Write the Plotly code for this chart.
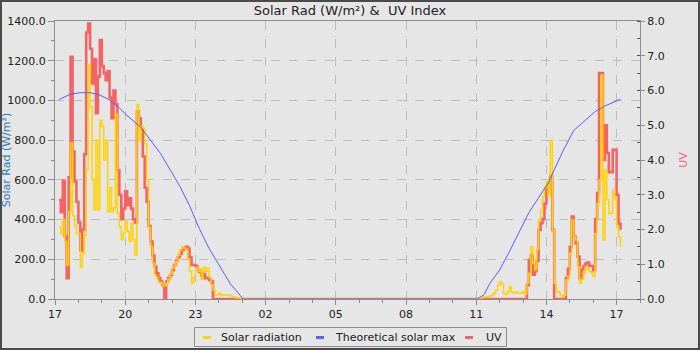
import pandas as pd
import plotly.graph_objects as go

# ---------------- data (5-minute readings) ----------------
solar_evening_start = "2024-06-01 17:10"
solar_evening = [
    360, 330, 400, 290, 170, 440, 785, 420, 370, 330,              # 17:10-17:55
    330, 160, 230, 320, 650, 1180, 968, 600, 450, 800, 450, 900,   # 18:00-18:55
    870, 700, 800, 440, 560, 440, 460, 930, 430, 364, 300, 330,    # 19:00-19:55
    390, 340, 290, 380, 300, 220, 980, 800, 870, 860, 780, 600,    # 20:00-20:55
    360, 263, 180, 121, 106, 87, 80, 70, 65, 81, 100, 126,         # 21:00-21:55
    155, 170, 188, 222, 247, 263, 255, 250, 196, 138, 80, 110,     # 22:00-22:55
    146, 160, 140, 100, 160, 140, 155, 110, 70, 45, 20, 20,        # 23:00-23:55
    29, 20, 20, 20, 20, 20, 15, 13, 10, 5, 5, 3,                   # 00:00-00:55
    0,                                                             # 01:00
]
solar_morning_start = "2024-06-02 10:55"
solar_morning = [
    0,                                                             # 10:55
    0, 2, 5, 8, 10, 12, 12, 15, 20, 29, 45, 70,                    # 11:00-11:55
    87, 75, 25, 25, 37, 62, 35, 30, 35, 30, 30, 30,                # 12:00-12:55
    35, 25, 80, 130, 263, 180, 146, 250, 398, 448, 515, 566,       # 13:00-13:55
    590, 520, 800, 347, 79, 40, 33, 20, 12, 20, 96, 113,           # 14:00-14:55
    230, 398, 314, 297, 163, 80, 100, 130, 163, 150, 140, 130,     # 15:00-15:55
    113, 330, 481, 600, 1128, 297, 650, 500, 431, 431, 549, 500,   # 16:00-16:55
    364, 314, 263,                                                 # 17:00-17:10
]

uv_evening_start = "2024-06-01 17:10"
uv_evening = [
    2.85, 2.5, 3.4, 1.8, 0.6, 3.5, 6.97, 4.24, 3.38, 2.8,                  # 17:10-17:55
    2.2, 1.4, 2.0, 4.17, 7.67, 7.93, 7.2, 6.2, 6.9, 5.35, 6.4, 7.45,       # 18:00-18:55
    6.7, 6.5, 6.3, 6.55, 5.8, 5.2, 6.0, 5.6, 3.7, 3.0, 2.3, 2.6,           # 19:00-19:55
    3.1, 2.7, 2.9, 2.6, 2.3, 2.2, 5.4, 5.2, 4.9, 4.1, 3.2, 2.8,            # 20:00-20:55
    2.1, 1.65, 1.25, 0.93, 0.74, 0.6, 0.5, 0.4, 0.0, 0.5, 0.6, 0.69,       # 21:00-21:55
    0.83, 0.98, 1.1, 1.2, 1.3, 1.41, 1.45, 1.5, 1.45, 1.2, 0.98, 0.98,     # 22:00-22:55
    0.95, 0.85, 0.78, 0.67, 0.72, 0.6, 0.6, 0.55, 0.5, 0.0,                # 23:00-23:45
]
uv_morning_start = "2024-06-02 13:05"
uv_morning = [
    0.0, 0.4, 1.12, 1.26, 0.7, 0.8, 1.1, 1.99, 2.18, 2.3, 2.75,            # 13:05-13:55
    3.14, 3.36, 3.55, 1.99, 0.0, 0.0, 0.0, 0.0, 0.0, 0.0, 0.6, 0.87,       # 14:00-14:55
    1.5, 2.37, 1.8, 1.6, 1.22, 0.6, 0.85, 0.95, 1.02, 1.05, 0.95, 0.95,    # 15:00-15:55
    0.83, 2.3, 3.05, 6.5, 6.5, 4.0, 5.0, 4.2, 3.65, 3.65, 4.29, 4.29,      # 16:00-16:55
    3.0, 2.17, 1.99,                                                       # 17:00-17:10
]

theo_clock = ["17:10", "17:40", "18:05", "18:30", "18:55", "19:20", "19:45",
              "20:10", "20:40", "21:05", "21:30", "21:55", "22:20", "22:45",
              "23:10", "23:35", "00:05", "00:30", "00:55", "01:02",
              "11:03", "11:10", "11:20", "11:35", "12:00", "12:25", "12:50",
              "13:15", "13:40", "14:05", "14:20", "14:45", "15:10", "15:40",
              "16:05", "16:30", "16:55", "17:10"]
theo_values = [1004, 1032, 1039, 1039, 1027, 1003, 962,
               915, 865, 800, 734, 652, 568, 470,
               355, 255, 160, 75, 18, 0,
               0, 8, 22, 79, 146, 238, 340,
               435, 510, 585, 650, 755, 848, 903,
               944, 972, 994, 1006]

x_range = ["2024-06-01 17:00", "2024-06-02 18:00"]
solar_ticks = [0, 200, 400, 600, 800, 1000, 1200, 1400]
uv_ticks = [0, 1, 2, 3, 4, 5, 6, 7, 8]
legend_names = ["Solar radiation", "Theoretical solar max", "UV"]

# ---------------- build x values ----------------
def steps(start, n):
    return list(pd.date_range(start, periods=n, freq="5min"))

solar_x = steps(solar_evening_start, len(solar_evening)) + steps(solar_morning_start, len(solar_morning))
solar_y = solar_evening + solar_morning
uv_x = steps(uv_evening_start, len(uv_evening)) + steps(uv_morning_start, len(uv_morning))
uv_y = uv_evening + uv_morning

theo_x = []
day = pd.Timestamp("2024-06-01")
prev = None
for c in theo_clock:
    t = day + pd.Timedelta(hours=int(c[:2]), minutes=int(c[3:]))
    if prev is not None and t <= prev:
        day = day + pd.Timedelta(days=1)
        t = t + pd.Timedelta(days=1)
    theo_x.append(t)
    prev = t

# ---------------- styling ----------------
BG = "#e6e6e6"
AX = "#8c8c8c"
GRID = "#bcbcbc"
FONT = "DejaVu Sans"
C_SOLAR = "#ffd200"
C_THEO = "#5c5cff"
C_UV = "#f46464"
TXT = "#222222"

fig = go.Figure()
fig.add_trace(go.Scatter(x=uv_x, y=uv_y, name=legend_names[2], mode="lines", line_shape="hv",
                         line=dict(color=C_UV, width=2.6), yaxis="y", showlegend=False))
fig.add_trace(go.Scatter(x=solar_x, y=solar_y, name=legend_names[0], mode="lines", line_shape="hv",
                         line=dict(color=C_SOLAR, width=1.5), yaxis="y2", showlegend=False))
fig.add_trace(go.Scatter(x=theo_x, y=theo_values, name=legend_names[1], mode="lines",
                         line=dict(color=C_THEO, width=1), yaxis="y2", showlegend=False))

L, R, T, B = 55, 60, 21, 51
W, H = 700, 350
pw, ph = W - L - R, H - T - B

def px(x):  # figure pixel -> paper x
    return (x - L) / pw

def py(y):  # figure pixel -> paper y
    return (T + ph - y) / ph

shapes = [
    # outer frame
    dict(type="rect", xref="paper", yref="paper", x0=px(1), x1=px(W - 1), y0=py(H - 1), y1=py(1),
         line=dict(color="#4a4a4a", width=2), fillcolor="rgba(0,0,0,0)", layer="above"),
    # legend box
    dict(type="rect", xref="paper", yref="paper", x0=px(194.5), x1=px(506.5), y0=py(346.5), y1=py(327.5),
         line=dict(color="#8c8c8c", width=1), fillcolor=BG, layer="above"),
]
annotations = []
legend_items = [(203, 219, C_SOLAR), (316, 333, C_THEO), (465, 484, C_UV)]
for name, (ix, tx, col) in zip(legend_names, legend_items):
    shapes.append(dict(type="line", xref="paper", yref="paper", x0=px(ix), x1=px(ix + 8),
                       y0=py(337.5), y1=py(337.5), line=dict(color=col, width=3), layer="above"))
    annotations.append(dict(text=name, xref="paper", yref="paper", x=px(tx), y=py(337),
                            xanchor="left", yanchor="middle", showarrow=False,
                            font=dict(family=FONT, size=11, color=TXT)))

fig.update_layout(
    width=W, height=H,
    margin=dict(l=L, r=R, t=T, b=B, pad=0, autoexpand=False),
    paper_bgcolor=BG, plot_bgcolor=BG,
    font=dict(family=FONT, size=11, color=TXT),
    title=dict(text="Solar Rad (W/m²) &  UV Index", x=0.5, xanchor="center",
               y=1 - 10 / H, yanchor="middle", yref="container",
               font=dict(family=FONT, size=13, color=TXT)),
    showlegend=False,
    xaxis=dict(type="date", range=x_range, tickformat="%H", dtick=3 * 3600 * 1000,
               tick0="2024-06-01 17:00", ticks="outside", ticklen=5, tickcolor=AX,
               showline=True, linecolor=AX, linewidth=1, mirror=True, automargin=False,
               showgrid=True, gridcolor=GRID, griddash="dash", gridwidth=1, zeroline=False,
               minor=dict(dtick=3600 * 1000, ticks="outside", ticklen=3, tickcolor=AX, showgrid=False),
               tickfont=dict(size=11, color=TXT)),
    yaxis=dict(side="right", range=[0, 8], tickvals=uv_ticks, tickformat=".1f",
               ticks="outside", ticklen=4, tickcolor=AX, showline=True, linecolor=AX,
               showgrid=False, zeroline=False, automargin=False,
               minor=dict(dtick=0.5, ticks="inside", ticklen=3, tickcolor="#555555", showgrid=False),
               title=dict(text="UV", font=dict(color=C_UV, size=11)),
               tickfont=dict(size=11, color=TXT)),
    yaxis2=dict(side="left", overlaying="y", range=[0, 1400], tickvals=solar_ticks, tickformat=".1f",
                ticks="outside", ticklen=6, tickcolor=AX, showline=True, linecolor=AX,
                showgrid=True, gridcolor=GRID, griddash="dash", zeroline=False, automargin=False,
                minor=dict(dtick=100, ticks="outside", ticklen=3, tickcolor=AX, showgrid=False),
                title=dict(text="Solar Rad (W/m²)", font=dict(color="#2e7db5", size=11)),
                tickfont=dict(size=11, color=TXT)),
    shapes=shapes,
    annotations=annotations,
)

fig.write_html("out.html")
